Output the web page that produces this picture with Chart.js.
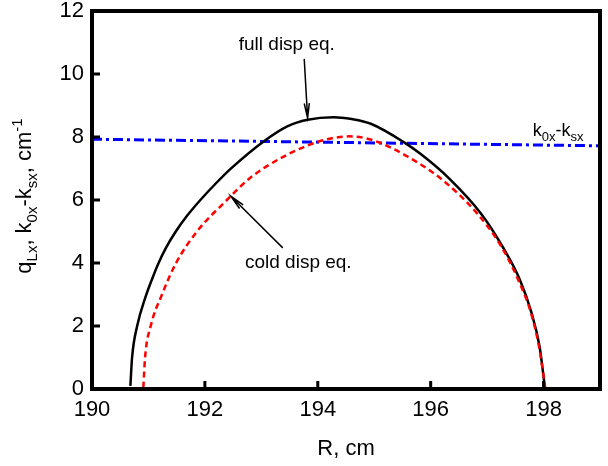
<!DOCTYPE html>
<html>
<head>
<meta charset="utf-8">
<script src="https://cdn.jsdelivr.net/npm/chart.js@4/dist/chart.umd.min.js"></script>
<style>
  html, body { margin: 0; padding: 0; background: #fff; }
  #wrap { width: 608px; height: 466px; }
</style>
</head>
<body>
<div id="wrap"><canvas id="dispChart" width="608" height="466"></canvas></div>
<script>
// values
const fullR = [190.68, 190.71, 190.80, 190.95, 191.06, 191.18, 191.31, 191.47, 191.68, 191.92, 192.18, 192.45, 193.04, 193.46, 193.82, 194.28, 194.6, 194.94, 195.53, 195.83, 196.33, 196.90, 197.28, 197.58, 197.79, 197.93, 198.02];
const fullQ = [0.1, 1.0, 2.0, 2.93, 3.47, 4.0, 4.48, 4.96, 5.49, 6.0, 6.5, 6.98, 7.86, 8.34, 8.55, 8.63, 8.57, 8.42, 7.83, 7.45, 6.68, 5.55, 4.5, 3.47, 2.4, 1.34, 0.1];

const coldR = [190.91, 190.94, 191.04, 191.24, 191.49, 191.86, 192.39, 192.8, 193.46, 193.99, 194.25, 194.55, 194.85, 195.11, 195.59, 196.18, 196.81, 197.25, 197.55, 197.78, 197.92, 198.03];
const coldQ = [0.05, 1.0, 2.0, 3.0, 4.0, 5.0, 6.0, 6.7, 7.44, 7.84, 7.96, 8.02, 7.96, 7.81, 7.38, 6.68, 5.6, 4.53, 3.47, 2.4, 1.34, 0.05];

const kdiffR = [190, 199];
const kdiffQ = [7.93, 7.72];

const xTicks = [190, 192, 194, 196, 198];
const yTicks = [0, 2, 4, 6, 8, 10, 12];

function toPoints(xs, ys) {
    return xs.map((x, i) => ({ x: x, y: ys[i] }));
}

const FONT = '"Liberation Sans", Arial, sans-serif';

// text bits drawn on top: [text, style]
const yTitleParts = [['q', 'n'], ['Lx', 'sub'], [', k', 'n'], ['0x', 'sub'], ['-k', 'n'], ['sx', 'sub'], [', cm', 'n'], ['-1', 'sup']];
const kLabelParts = [['k', 'n'], ['0x', 'sub'], ['-k', 'n'], ['sx', 'sub']];

function drawParts(ctx, parts, x, y, size, subSize) {
    let cx = x;
    parts.forEach(p => {
        const s = p[1] === 'n' ? size : subSize;
        ctx.font = s + 'px ' + FONT;
        let dy = 0;
        if (p[1] === 'sub') dy = size * 0.28;
        if (p[1] === 'sup') dy = -size * 0.42;
        ctx.fillText(p[0], cx, y + dy);
        cx += ctx.measureText(p[0]).width;
    });
    return cx - x;
}

function measureParts(ctx, parts, size, subSize) {
    let w = 0;
    parts.forEach(p => {
        const s = p[1] === 'n' ? size : subSize;
        ctx.font = s + 'px ' + FONT;
        w += ctx.measureText(p[0]).width;
    });
    return w;
}

function arrow(ctx, x1, y1, x2, y2) {
    const ang = Math.atan2(y2 - y1, x2 - x1);
    const hl = 15, hw = 0.17;
    ctx.beginPath();
    ctx.moveTo(x1, y1);
    ctx.lineTo(x2, y2);
    ctx.moveTo(x2 - hl * Math.cos(ang - hw), y2 - hl * Math.sin(ang - hw));
    ctx.lineTo(x2, y2);
    ctx.lineTo(x2 - hl * Math.cos(ang + hw), y2 - hl * Math.sin(ang + hw));
    ctx.stroke();
}

const decorPlugin = {
    id: 'decor',
    afterDraw(chart) {
        const ctx = chart.ctx;
        const a = chart.chartArea;
        const xs = chart.scales.x, ys = chart.scales.y;
        ctx.save();
        ctx.fillStyle = '#000';

        // box round the plot
        ctx.fillRect(a.left - 2, a.top - 2, a.right - a.left + 4, 4);
        ctx.fillRect(a.left - 2, a.bottom - 2, a.right - a.left + 4, 4);
        ctx.fillRect(a.left - 2, a.top - 2, 4, a.bottom - a.top + 4);
        ctx.fillRect(a.right - 2, a.top - 2, 4, a.bottom - a.top + 4);

        // inward ticks
        xTicks.forEach(v => {
            ctx.fillRect(xs.getPixelForValue(v) - 1.5, a.bottom - 8, 3, 8);
        });
        yTicks.forEach(v => {
            ctx.fillRect(a.left, ys.getPixelForValue(v) - 1.5, 8, 3);
        });

        // arrows
        ctx.strokeStyle = '#000';
        ctx.lineWidth = 1.5;
        arrow(ctx, xs.getPixelForValue(193.76), ys.getPixelForValue(10.48), xs.getPixelForValue(193.82), ys.getPixelForValue(8.6));
        arrow(ctx, xs.getPixelForValue(193.38), ys.getPixelForValue(4.48), xs.getPixelForValue(192.46), ys.getPixelForValue(6.12));

        // labels
        ctx.textBaseline = 'alphabetic';
        ctx.textAlign = 'left';
        ctx.font = '19px ' + FONT;
        ctx.fillText('full disp eq.', xs.getPixelForValue(192.6), ys.getPixelForValue(10.76));
        ctx.fillText('cold disp eq.', xs.getPixelForValue(192.71), ys.getPixelForValue(3.84));
        drawParts(ctx, kLabelParts, xs.getPixelForValue(197.81), ys.getPixelForValue(8.03), 18, 13);

        // axis titles
        ctx.font = '22px ' + FONT;
        ctx.textAlign = 'center';
        ctx.fillText('R, cm', (a.left + a.right) / 2, 455);

        ctx.textAlign = 'left';
        const w = measureParts(ctx, yTitleParts, 22, 15);
        ctx.translate(31, 196);
        ctx.rotate(-Math.PI / 2);
        drawParts(ctx, yTitleParts, -w / 2, 0, 22, 15);
        ctx.restore();
    }
};

new Chart(document.getElementById('dispChart').getContext('2d'), {
    type: 'scatter',
    data: {
        datasets: [
            {
                label: 'cold disp eq.',
                data: toPoints(coldR, coldQ),
                showLine: true,
                borderColor: '#ff0000',
                borderWidth: 2.5,
                borderDash: [6, 4],
                cubicInterpolationMode: 'monotone',
                pointRadius: 0
            },
            {
                label: 'full disp eq.',
                data: toPoints(fullR, fullQ),
                showLine: true,
                borderColor: '#000000',
                borderWidth: 2.5,
                cubicInterpolationMode: 'monotone',
                pointRadius: 0
            },
            {
                label: 'k0x-ksx',
                data: toPoints(kdiffR, kdiffQ),
                showLine: true,
                borderColor: '#0000ff',
                borderWidth: 3,
                borderDash: [10, 4, 3, 4],
                pointRadius: 0
            }
        ]
    },
    options: {
        responsive: false,
        animation: false,
        layout: { padding: { top: 0, right: 8, left: 0, bottom: 0 } },
        scales: {
            x: {
                type: 'linear',
                min: 190,
                max: 199,
                grid: { display: false, drawTicks: false },
                border: { display: false },
                ticks: {
                    stepSize: 2,
                    includeBounds: false,
                    color: '#000',
                    padding: 10,
                    font: { family: FONT, size: 22, lineHeight: 1 },
                    maxRotation: 0
                },
                afterFit(scale) { scale.height = 77; }
            },
            y: {
                min: 0,
                max: 12,
                grid: { display: false, drawTicks: false },
                border: { display: false },
                ticks: {
                    stepSize: 2,
                    color: '#000',
                    padding: 8,
                    font: { family: FONT, size: 22, lineHeight: 1 }
                },
                afterFit(scale) {
                    scale.width = 92;
                    scale.paddingTop = 11;
                    scale.paddingBottom = 0;
                }
            }
        },
        plugins: {
            legend: { display: false },
            tooltip: { enabled: false }
        }
    },
    plugins: [decorPlugin]
});
</script>
</body>
</html>
